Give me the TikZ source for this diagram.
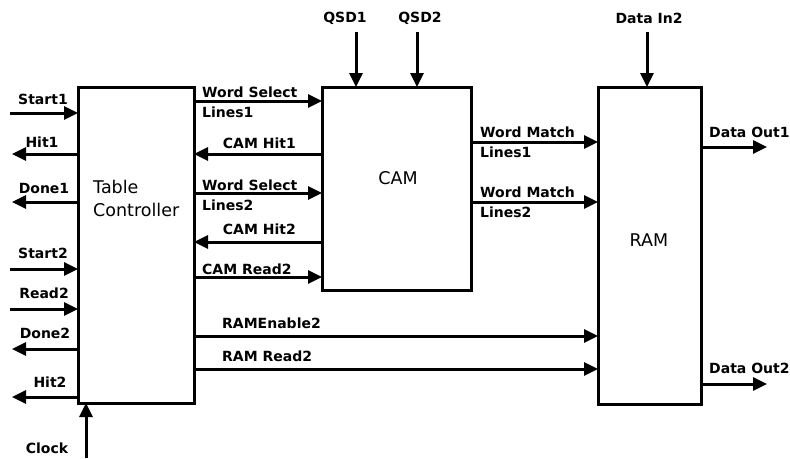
\documentclass[tikz,border=0pt]{standalone}
\usepackage{fontspec}
\setmainfont{DejaVu Sans}
\usetikzlibrary{arrows.meta}
\begin{document}
\begin{tikzpicture}[x=1pt,y=-1pt,
  blk/.style={draw,line width=3pt,inner sep=0pt,outer sep=0pt,anchor=north west},
  sig/.style={line width=3pt,-{Triangle[length=14pt,width=13pt]}},
  lbl/.style={font=\fontsize{14}{16}\selectfont\bfseries,inner sep=0pt},
  big/.style={font=\fontsize{17.5}{20}\selectfont,inner sep=0pt}]
\useasboundingbox (0,0) rectangle (790,458);
% blocks
\node[blk,minimum width=116pt,minimum height=316pt] (TC) at (78,87) {};
\node[blk,minimum width=149pt,minimum height=203pt] (CAM) at (322,87) {};
\node[blk,minimum width=103pt,minimum height=317pt] (RAM) at (598,87) {};
\node[big,anchor=west] (tct) at (93,187) {Table};
\node[big,anchor=west] (tcc) at (93,210) {Controller};
\node[big] (camt) at (398,178) {CAM};
\node[big] (ramt) at (649,240) {RAM};
% left side signals
\coordinate (s1) at (10,113);
\coordinate (h1) at (12,154);
\coordinate (d1) at (12,202);
\coordinate (s2) at (10,269);
\coordinate (r2) at (10,309);
\coordinate (d2) at (12,349);
\coordinate (h2) at (12,397);
\coordinate (ck) at (86,458);
\draw[sig] (s1) -- (TC.west |- s1);
\draw[sig] (TC.west |- h1) -- (h1);
\draw[sig] (TC.west |- d1) -- (d1);
\draw[sig] (s2) -- (TC.west |- s2);
\draw[sig] (r2) -- (TC.west |- r2);
\draw[sig] (TC.west |- d2) -- (d2);
\draw[sig] (TC.west |- h2) -- (h2);
\draw[sig] (ck) -- (TC.south -| ck);
\node[lbl] (ls1) at (43,99) {Start1};
\node[lbl] (lh1) at (42,142) {Hit1};
\node[lbl] (ld1) at (44,188) {Done1};
\node[lbl] (ls2) at (43,253) {Start2};
\node[lbl] (lr2) at (44,293) {Read2};
\node[lbl] (ld2) at (45,333) {Done2};
\node[lbl] (lh2) at (50,382) {Hit2};
\node[lbl] (lck) at (47,448) {Clock};
% TC <-> CAM
\draw[sig] (TC.east |- 0,101) -- (CAM.west |- 0,101);
\draw[sig] (CAM.west |- 0,154) -- (TC.east |- 0,154);
\draw[sig] (TC.east |- 0,193) -- (CAM.west |- 0,193);
\draw[sig] (CAM.west |- 0,242) -- (TC.east |- 0,242);
\draw[sig] (TC.east |- 0,277) -- (CAM.west |- 0,277);
\node[lbl,anchor=west] (ws1) at (202,92) {Word Select};
\node[lbl,anchor=west] (wl1) at (202,112) {Lines1};
\node[lbl,anchor=east] (ch1) at (296,143) {CAM Hit1};
\node[lbl,anchor=west] (ws2) at (202,185) {Word Select};
\node[lbl,anchor=west] (wl2) at (202,205) {Lines2};
\node[lbl,anchor=east] (ch2) at (296,229) {CAM Hit2};
\node[lbl,anchor=west] (cr2) at (202,269) {CAM Read2};
% TC -> RAM
\draw[sig] (TC.east |- 0,336) -- (RAM.west |- 0,336);
\draw[sig] (TC.east |- 0,369) -- (RAM.west |- 0,369);
\node[lbl,anchor=west] (re2) at (222,323) {RAMEnable2};
\node[lbl,anchor=west] (rr2) at (222,356) {RAM Read2};
% top inputs
\coordinate (q1) at (356,32);
\coordinate (q2) at (417,32);
\coordinate (di) at (647,32);
\draw[sig] (q1) -- (CAM.north -| q1);
\draw[sig] (q2) -- (CAM.north -| q2);
\draw[sig] (di) -- (RAM.north -| di);
\node[lbl] (lq1) at (345,18) {QSD1};
\node[lbl] (lq2) at (420,18) {QSD2};
\node[lbl] (ldi) at (649,18) {Data In2};
% CAM -> RAM
\draw[sig] (CAM.east |- 0,142) -- (RAM.west |- 0,142);
\draw[sig] (CAM.east |- 0,202) -- (RAM.west |- 0,202);
\node[lbl,anchor=west] (wm1) at (480,132) {Word Match};
\node[lbl,anchor=west] (wml1) at (480,152) {Lines1};
\node[lbl,anchor=west] (wm2) at (480,192) {Word Match};
\node[lbl,anchor=west] (wml2) at (480,212) {Lines2};
% outputs
\coordinate (o1) at (767,147);
\coordinate (o2) at (767,384);
\draw[sig] (RAM.east |- o1) -- (o1);
\draw[sig] (RAM.east |- o2) -- (o2);
\node[lbl,anchor=west] (lo1) at (709,132) {Data Out1};
\node[lbl,anchor=west] (lo2) at (709,368) {Data Out2};
\end{tikzpicture}
\end{document}
